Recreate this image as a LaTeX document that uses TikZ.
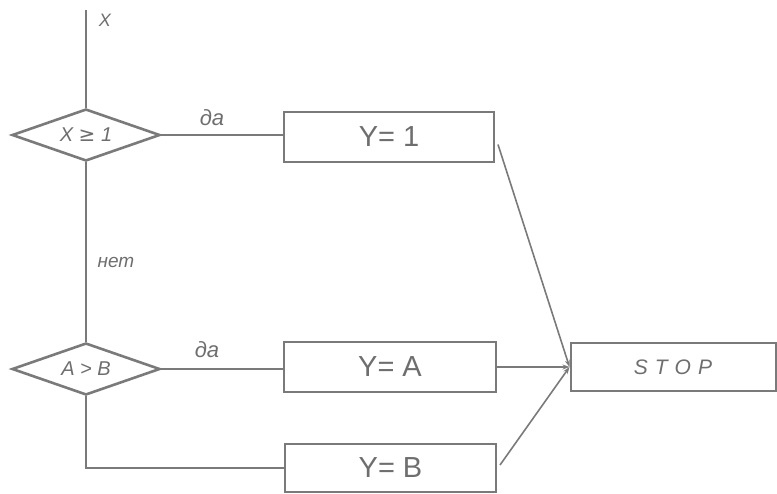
\documentclass[tikz,border=0pt]{standalone}
\usepackage{fontspec}
\setmainfont{Liberation Sans}
\newfontfamily\symfont{DejaVu Sans}
\usetikzlibrary{shapes.geometric,arrows.meta,calc}
\definecolor{ink}{HTML}{7A7A7A}
\definecolor{txt}{HTML}{6E6E6E}
\tikzset{
  line/.style={draw=ink, line width=1.6pt},
  cond/.style={diamond, draw=ink, line width=2.6pt, minimum width=148pt, minimum height=52pt, shape aspect=2.8, inner sep=0pt, text=txt, font=\fontsize{20}{20}\selectfont\itshape},
  act/.style={rectangle, draw=ink, line width=2pt, minimum width=210pt, minimum height=50pt, inner sep=0pt, text=txt, font=\fontsize{29}{29}\selectfont},
  lbl/.style={text=txt, inner sep=0pt, font=\fontsize{22}{22}\selectfont\itshape},
  arr/.style={line, -{Stealth[length=7pt,width=5pt]}}
}
\begin{document}
\begin{tikzpicture}[x=1pt,y=-1pt]
\useasboundingbox (0,0) rectangle (777,493);
\node[cond] (d1) at (86,135) {X {\symfont ≥} 1};
\node[cond] (d2) at (86,369) {A > B};
\coordinate (xin) at (86,10);
\node[lbl, font=\fontsize{18}{18}\selectfont\itshape] (xl) at (105,20) {X};
\node[act] (b1) at (389,136.5) {Y= 1};
\node[act, minimum width=212pt] (b2) at (390,367) {Y= A};
\node[act, minimum width=211pt, minimum height=48pt] (b3) at (390.5,468) {Y= B};
\node[act, minimum width=205pt, minimum height=48pt, font=\fontsize{21}{21}\selectfont\itshape] (stop) at (673,367) {S\,\,T\,\,O\,\,P};
\node[lbl] (da1) at (212,118) {да};
\node[lbl] (da2) at (207,350) {да};
\node[lbl, font=\fontsize{19}{19}\selectfont\itshape] (net) at (116,262) {нет};
\draw[line] (xin) -- (d1.north);
\draw[line] (d1.east) -- (d1.east -| b1.west);
\draw[line] (d1.south) -- (d2.north);
\draw[line] (d2.east) -- (d2.east -| b2.west);
\draw[line] (d2.south) |- (b3.west);
\draw[arr] ([xshift=3pt,yshift=-8pt]b1.east) -- (stop.west);
\draw[arr] (b2.east) -- (stop.west);
\draw[arr] ([xshift=3pt,yshift=3pt]b3.east) -- (stop.west);
\end{tikzpicture}
\end{document}
